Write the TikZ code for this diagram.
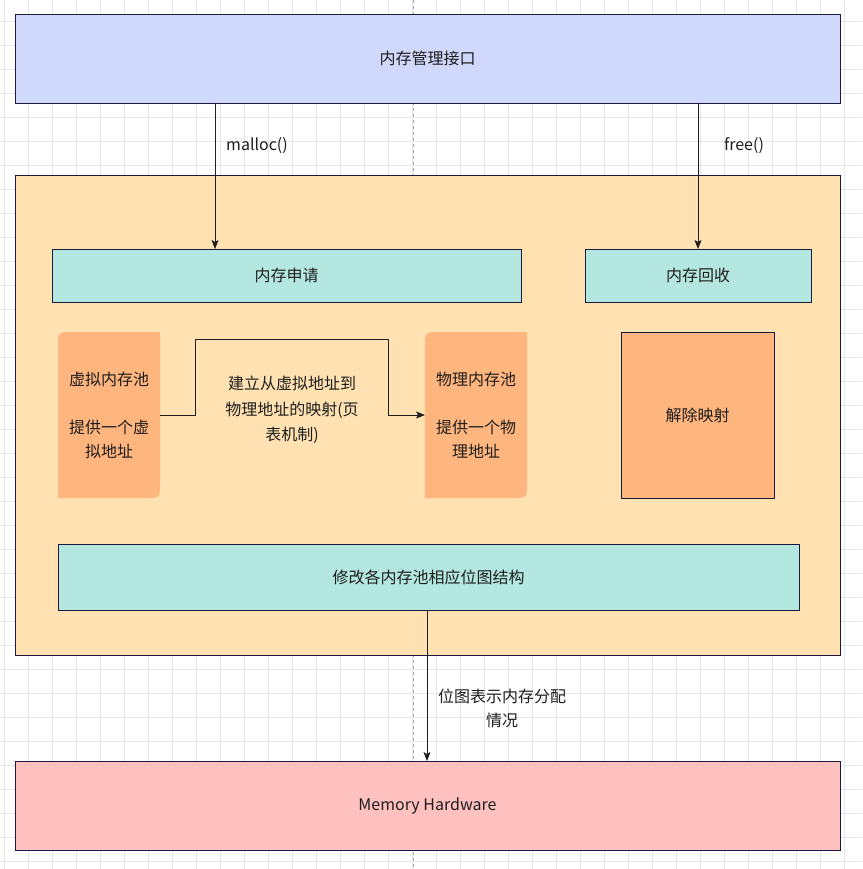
\documentclass[tikz,border=0pt]{standalone}
\usepackage{fontspec}
\setmainfont{Noto Sans CJK SC}
\usetikzlibrary{arrows.meta}
\definecolor{ifblue}{HTML}{D0D8FC}
\definecolor{panel}{HTML}{FFE1B2}
\definecolor{tealbox}{HTML}{B3E7DF}
\definecolor{poolc}{HTML}{FFB57E}
\definecolor{pinkbox}{HTML}{FFC0C0}
\definecolor{edgec}{HTML}{1A1A40}
\definecolor{gridc}{HTML}{E6E6E6}
\definecolor{txt}{HTML}{1E1E1E}
\tikzset{
  box/.style={draw=edgec, line width=0.8pt, anchor=north west, inner sep=0pt, outer sep=0pt, text=txt, align=center},
  plain/.style={inner sep=0pt, outer sep=0pt, text=txt, align=center},
  arr/.style={draw=txt, line width=0.8pt, -{Stealth[length=9pt,width=7pt,inset=2pt]}},
  gridline/.style={draw=gridc, line width=0.7pt}
}
\begin{document}
\begin{tikzpicture}[x=1pt,y=-1pt, every node/.style={font=\fontsize{16}{24}\selectfont}]
\useasboundingbox[fill=white] (0,0) rectangle (862,869);
% grid
\foreach \gx in {4,28,...,860} \draw[gridline] (\gx,0) -- (\gx,869);
\foreach \gy in {21,45,...,869} \draw[gridline] (0,\gy) -- (862,\gy);
\draw[draw=gray!70, dashed, line width=0.7pt] (413,0) -- (413,869);
% top interface
\node[box, fill=ifblue, minimum width=825pt, minimum height=89pt] (iface) at (15,14) {内存管理接口};
% panel
\node[box, fill=panel, minimum width=825pt, minimum height=480pt] (panel) at (15,175) {};
\node[box, fill=tealbox, minimum width=469pt, minimum height=53pt] (alloc) at (52,249) {内存申请};
\node[box, fill=tealbox, minimum width=226pt, minimum height=53pt] (recl) at (585,249) {内存回收};
% pools
\fill[poolc] (58,498) -- (58,347) .. controls (58,332) .. (73,332) -- (160,332) -- (160,483) .. controls (160,498) .. (145,498) -- cycle;
\fill[poolc] (425,498) -- (425,347) .. controls (425,332) .. (440,332) -- (527,332) -- (527,483) .. controls (527,498) .. (512,498) -- cycle;
\node[plain, minimum width=102pt, minimum height=166pt] (vpool) at (109,415) {虚拟内存池\\[24pt]提供一个虚\\拟地址};
\node[plain, minimum width=102pt, minimum height=166pt] (ppool) at (476,415) {物理内存池\\[24pt]提供一个物\\理地址};
\node[box, fill=poolc, minimum width=153pt, minimum height=166pt] (unmap) at (621,332) {解除映射};
\node[box, fill=tealbox, minimum width=741pt, minimum height=66pt] (modbm) at (58,544) {修改各内存池相应位图结构};
\node[box, fill=pinkbox, minimum width=825pt, minimum height=89pt] (hw) at (15,761) {Memory Hardware};
% connectors
\draw[arr] (215,0 |- iface.south) -- (215,0 |- alloc.north);
\draw[arr] (698,0 |- iface.south) -- (698,0 |- recl.north);
\draw[arr] (vpool.east) -- (195,0 |- vpool.east) -- (195,339) -- (388,339) -- (388,0 |- ppool.west) -- (ppool.west);
\draw[arr] (427,0 |- modbm.south) -- (427,0 |- hw.north);
% labels
\node[plain] (lmalloc) at (257,146) {malloc()};
\node[plain] (lfree) at (744,146) {free()};
\node[plain, font=\fontsize{16}{25.5}\selectfont] (lmap) at (292,410) {建立从虚拟地址到\\物理地址的映射(页\\表机制)};
\node[plain] (lbm) at (502,708) {位图表示内存分配\\情况};
\end{tikzpicture}
\end{document}
